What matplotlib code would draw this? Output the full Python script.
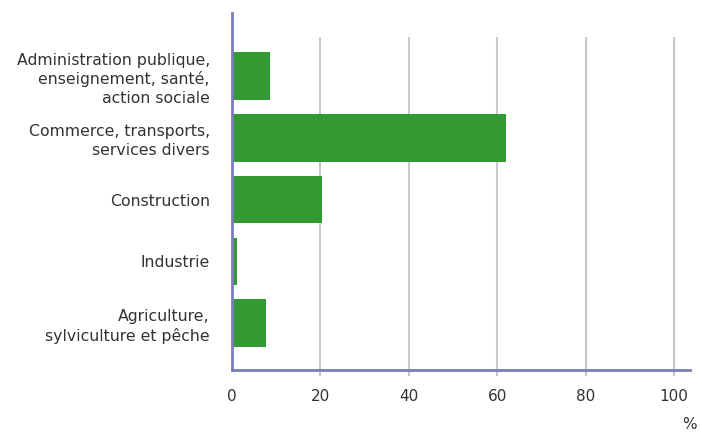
import matplotlib
matplotlib.use("Agg")
import matplotlib.pyplot as plt

categories = ["Agriculture,\nsylviculture et pêche", "Industrie", "Construction",
              "Commerce, transports,\nservices divers",
              "Administration publique,\nenseignement, santé,\naction sociale"]
values = [7.7, 1.1, 20.4, 62.0, 8.6]
xticks = [0, 20, 40, 60, 80, 100]

fig = plt.figure(figsize=(7.02, 4.32), dpi=100)
ax = fig.add_axes([0.3305, 0.1435, 0.6525, 0.8265])

axis_col = "#7b7bc0"
ypos = list(range(len(categories)))
for x in xticks[1:]:
    ax.axvline(x, ymin=-0.014, ymax=0.93, color="#c8c8c8", lw=1.5, clip_on=False, zorder=0)
ax.barh(ypos, values, height=0.77, color="#339933", zorder=2)

ax.set_xlim(0, 103.6)
ax.set_ylim(-0.76, 5.02)
ax.set_yticks(ypos)
ax.set_yticklabels(categories, fontsize=11.3, color="#333333", linespacing=1.3)
ax.set_xticks(xticks)
ax.set_xticklabels([str(v) for v in xticks], fontsize=11, color="#333333")
ax.tick_params(axis="y", length=0, pad=16)
ax.tick_params(axis="x", length=0, pad=14)
for s in ["top", "right"]:
    ax.spines[s].set_visible(False)
for s in ["left", "bottom"]:
    ax.spines[s].set_color(axis_col)
    ax.spines[s].set_linewidth(2)
fig.text(0.972, 0.0, "%", fontsize=11, color="#333333", ha="left", va="bottom")
fig.savefig("out.png", dpi=100)
